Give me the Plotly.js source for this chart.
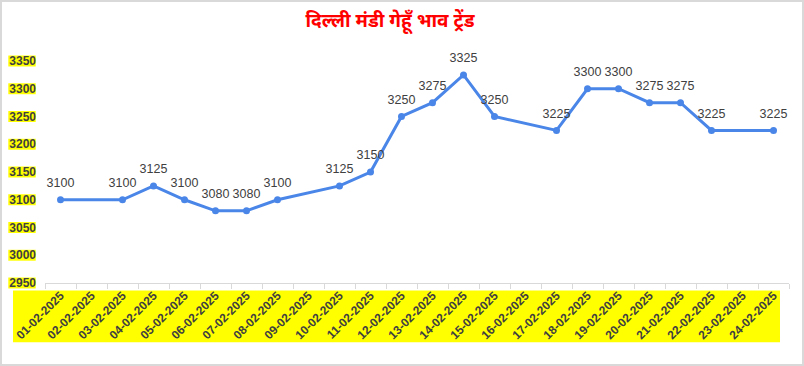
<!DOCTYPE html>
<html><head><meta charset="utf-8">
<script src="https://cdn.plot.ly/plotly-3.0.1.min.js"></script>
<style>
html,body{margin:0;padding:0;background:#fff;}
#wrap{width:804px;height:366px;box-sizing:border-box;border:2px solid #d9d9d9;overflow:hidden;}
#chart{width:800px;height:362px;margin:-2px 0 0 -2px;}
</style></head>
<body><div id="wrap"><div id="chart"></div></div>
<script>
const titleText = 'दिल्ली मंडी गेहूँ भाव ट्रेंड';
const dates = ['01-02-2025','02-02-2025','03-02-2025','04-02-2025','05-02-2025','06-02-2025','07-02-2025','08-02-2025','09-02-2025','10-02-2025','11-02-2025','12-02-2025','13-02-2025','14-02-2025','15-02-2025','16-02-2025','17-02-2025','18-02-2025','19-02-2025','20-02-2025','21-02-2025','22-02-2025','23-02-2025','24-02-2025'];
const prices = [3100,null,3100,3125,3100,3080,3080,3100,null,3125,3150,3250,3275,3325,3250,null,3225,3300,3300,3275,3275,3225,null,3225];
const yTicks = [2950,3000,3050,3100,3150,3200,3250,3300,3350];

const W = 804, H = 366;
const M = {l:45, r:15, t:60.5, b:82.5};
const pw = W - M.l - M.r, ph = H - M.t - M.b;
const yRange = [2950, 3350];
const px2x = p => (p - M.l) / pw;
const px2y = p => (H - M.b - p) / ph;

const shapes = [];
// yellow band behind x labels
shapes.push({type:'rect', xref:'paper', yref:'paper', layer:'below',
  x0:px2x(13), x1:px2x(780), y0:px2y(343), y1:px2y(291),
  fillcolor:'#ffff00', line:{width:0}});
// yellow boxes behind y tick labels
yTicks.forEach(v => {
  const yc = (v - yRange[0]) / (yRange[1] - yRange[0]);
  const hh = 5.5 / ph;
  shapes.push({type:'rect', xref:'paper', yref:'paper', layer:'below',
    x0:px2x(8.3), x1:px2x(35.7), y0:yc - hh, y1:yc + hh,
    fillcolor:'#ffff00', line:{width:0}});
});

const lineTrace = {
  x: dates, y: prices, type:'scatter', mode:'lines+markers',
  connectgaps:true,
  line:{color:'#4a86e8', width:3},
  marker:{color:'#4a86e8', size:7},
  cliponaxis:false, hoverinfo:'x+y'
};
const labelTrace = {
  x: dates, y: prices, type:'scatter', mode:'text+markers',
  marker:{color:'rgba(0,0,0,0)', size:14},
  text: prices.map(v => v == null ? '' : String(v)),
  textposition:'top center',
  textfont:{family:'Arial, Liberation Sans, sans-serif', size:12.5, color:'#404040'},
  cliponaxis:false, hoverinfo:'skip'
};

const layout = {
  width:W, height:H, margin:M,
  paper_bgcolor:'rgba(0,0,0,0)', plot_bgcolor:'rgba(0,0,0,0)',
  showlegend:false,
  title:{text:'<b>'+titleText+'</b>', x:(390-M.l)/pw, xref:'paper', xanchor:'center', y:1-20/H, yanchor:'middle',
    font:{family:'Noto Sans, Arial, sans-serif', size:19, color:'#ff0000'}},
  xaxis:{type:'category', categoryarray:dates, categoryorder:'array', range:[-0.5, 23.5],
    tickson:'boundaries', ticks:'outside', ticklen:5, tickcolor:'#d9d9d9',
    showline:true, linecolor:'#d9d9d9', linewidth:1, showgrid:false, zeroline:false,
    tickangle:-45, tickfont:{family:'Arial, Liberation Sans, sans-serif', size:12, color:'#404040', weight:'bold'}},
  yaxis:{range:yRange, tickvals:yTicks, ticktext:yTicks.map(String), showgrid:false, zeroline:false,
    showline:false, ticks:'', ticklabelstandoff:8,
    tickfont:{family:'Arial, Liberation Sans, sans-serif', size:12, color:'#404040', weight:'bold'}},
  shapes: shapes
};
Plotly.newPlot('chart', [lineTrace, labelTrace], layout, {displayModeBar:false, staticPlot:true});
</script></body></html>
